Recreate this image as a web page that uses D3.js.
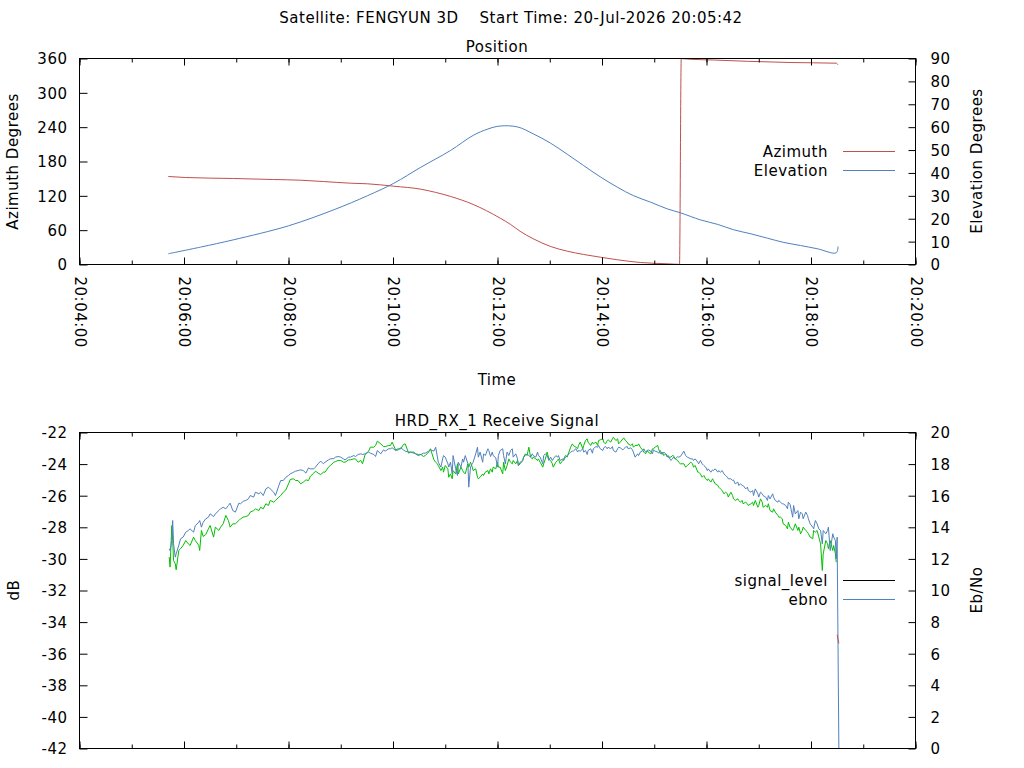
<!DOCTYPE html>
<html>
<head>
<meta charset="utf-8">
<script src="https://cdn.jsdelivr.net/npm/d3@7"></script>
<style>
  body { margin: 0; background: #fff; }
  svg { display: block; }
  text { font-family: "DejaVu Sans", sans-serif; font-size: 15px; letter-spacing: 0.5px; fill: #000; }
</style>
</head>
<body>
<svg id="chart" width="1024" height="768"></svg>
<script>
// pass of 20-Jul-2026, all times are seconds after 20:04:00
const satellite = 'FENGYUN 3D'
const startTime = '20-Jul-2026 20:05:42'
const receiver = 'HRD_RX_1'

const azSec = [102, 122, 177, 223, 254, 280, 311, 331, 361, 392, 409, 426, 452, 483, 495, 506, 521, 541, 560, 579,
  598, 618, 644, 676, 689, 691, 702, 728, 767, 816, 869, 871]
const azimuth = [153.8, 152.0, 150.3, 148.5, 147.3, 145.0, 142.1, 141.0, 136.8, 131.6, 126.0, 119.0, 105.0, 81.0, 70.0, 58.0, 45.0, 31.5, 23.3, 17.5,
  12.8, 8.2, 3.5, 1.2, 0.3, 359.8, 358.6, 357.4, 355.1, 353.0, 351.8, 349.0]

const elSec = [102, 139, 177, 240, 292, 331, 361, 392, 426, 452, 469, 483, 503, 521, 541, 560, 579, 598, 618,
  636, 656, 675, 690, 713, 733, 751, 771, 790, 808, 828, 847, 869, 871]
const elevation = [4.7, 7.6, 10.8, 16.9, 23.9, 30.1, 35.5, 42.5, 49.8, 56.4, 59.2, 60.5, 60.1, 57.1, 53.0, 48.2, 43.2, 38.3, 33.7,
  30.1, 27.2, 24.3, 22.6, 19.5, 17.5, 15.2, 13.4, 11.5, 9.7, 8.3, 6.9, 5.1, 7.9]

const sigSec = [
  103, 104, 106, 107, 108, 110, 111, 114, 116, 119, 122, 125, 127, 131, 133, 137, 138, 140, 142, 145,
  148, 150, 154, 156, 160, 162, 165, 168, 171, 173, 176, 179, 183, 185, 188, 191, 194, 196, 200, 202,
  206, 208, 211, 214, 217, 219, 223, 225, 229, 231, 234, 237, 240, 242, 246, 248, 251, 254, 257, 260,
  263, 265, 269, 271, 274, 277, 280, 282, 286, 288, 292, 294, 297, 300,
  303, 305, 309, 311, 315, 317, 320, 323, 325, 328, 332, 334, 338, 340, 342, 346, 349, 351, 355, 357,
  359, 363, 366, 369, 372, 374, 378, 380, 384, 386, 389, 392, 395, 397, 401, 403, 407, 409, 411, 412,
  415, 417, 418, 420, 423, 424, 426, 428, 429, 432, 434, 435, 438, 440, 441, 443, 446, 447, 449, 451,
  452, 455, 457, 458, 460, 463, 464, 466, 469, 470, 472, 474, 475, 478, 480, 481,
  483, 486, 487, 489, 491, 493, 495, 497, 498, 501, 503, 504, 506, 509, 510, 512, 514, 516, 518, 520,
  521, 524, 526, 527, 529, 532, 533, 535, 537, 539, 541, 543, 544, 547, 549, 550, 552, 555, 556, 558,
  560, 562, 564, 566, 567, 570, 572, 573, 575, 578, 579, 581, 583, 584, 587, 589, 590, 593, 595, 596,
  598, 601, 602, 604, 606, 607, 610, 612, 613, 616, 618, 619, 621, 624, 625, 627, 629, 630, 633, 635,
  636, 638, 641, 642, 644, 647, 648, 650, 652, 653, 656, 658, 659, 661, 664, 665, 667, 669, 671, 673,
  675, 676, 679, 681, 682, 684, 687, 688, 690,
  694, 696, 698, 702, 704, 705, 707, 710, 711, 713, 715, 717, 719, 721, 722, 725, 727, 728, 730, 733,
  734, 736, 738, 740, 742, 744, 745, 748, 750, 751, 753, 756, 757, 759, 761, 762, 765, 767, 768, 771,
  773, 774, 776, 779, 780, 782, 784, 785, 788, 790, 791, 793, 796, 797, 799, 802, 803, 805, 807, 808,
  811, 813, 814, 816, 819, 820, 822, 825, 826, 828, 830, 831, 834, 836, 837, 839, 842, 843, 845, 847,
  849, 851, 853, 854, 857, 859, 860, 862, 865, 866, 868, 869, 870, 872]

// dB, left axis
const signalLevel = [
  -29.89, -30.52, -27.89, -28.84, -30.10, -30.31, -30.69, -29.47, -29.36, -29.15, -28.84, -29.05, -29.15, -28.62, -28.84, -29.15, -29.47, -28.20, -28.58, -28.46,
  -28.10, -27.89, -28.62, -27.99, -28.20, -27.99, -27.78, -27.25, -27.57, -27.99, -27.78, -27.78, -27.57, -27.46, -27.36, -27.32, -27.25, -27.04, -26.94, -26.83,
  -26.94, -26.73, -26.83, -26.51, -26.62, -26.30, -26.41, -26.30, -26.09, -25.99, -25.78, -25.63, -25.25, -24.97, -24.93, -25.04, -25.04, -25.25, -25.14, -25.00,
  -25.04, -24.78, -24.57, -24.45, -24.57, -24.66, -24.51, -24.51, -24.19, -24.09, -23.88, -23.84, -23.77, -23.77,
  -23.88, -23.88, -23.73, -23.73, -23.67, -23.67, -23.88, -23.77, -23.98, -23.39, -23.18, -22.93, -22.93, -22.82, -22.55, -22.72, -22.89, -22.89, -22.82, -22.82,
  -22.61, -23.10, -23.03, -23.03, -22.76, -22.72, -23.31, -23.24, -23.24, -23.35, -23.46, -23.39, -23.52, -23.46, -23.24, -23.03, -23.73, -23.88, -23.98, -24.09,
  -24.41, -24.19, -24.51, -24.09, -24.30, -24.83, -24.62, -24.93, -24.41, -24.62, -23.98, -24.62, -24.19, -24.41, -24.51, -24.62, -23.98, -24.19, -23.88, -24.19,
  -24.41, -24.30, -24.83, -24.93, -24.83, -24.62, -24.72, -24.51, -24.41, -24.62, -24.30, -24.51, -24.19, -24.30, -23.88, -24.19,
  -24.19, -24.62, -23.88, -24.41, -24.09, -23.67, -23.88, -23.98, -23.77, -23.98, -23.77, -24.09, -23.98, -23.77, -23.56, -23.35, -23.46, -22.93, -23.56, -23.67,
  -23.56, -23.67, -23.77, -23.67, -23.88, -24.19, -23.98, -23.67, -23.24, -23.67, -23.77, -23.98, -24.19, -23.88, -23.77, -23.67, -23.98, -23.77, -23.67, -23.46,
  -23.56, -23.24, -22.93, -22.72, -22.82, -22.93, -23.03, -22.82, -22.61, -23.03, -22.82, -22.51, -22.40, -22.61, -22.82, -22.61, -22.72, -22.61, -22.82, -22.51,
  -22.46, -22.40, -22.61, -22.72, -22.51, -22.46, -22.61, -22.40, -22.30, -22.51, -22.40, -22.72, -22.61, -22.40, -22.34, -22.51, -22.61, -22.72, -22.82, -22.72,
  -22.93, -22.82, -22.82, -22.72, -22.93, -23.14, -23.24, -23.35, -23.14, -23.24, -23.35, -23.03, -23.03, -22.93, -22.82, -23.03, -23.35, -23.24, -23.46, -23.35,
  -23.46, -23.56, -23.56, -23.46, -23.46, -23.67, -23.77, -23.88, -23.98,
  -23.98, -24.19, -24.09, -23.88, -23.98, -24.19, -24.09, -24.51, -24.51, -24.62, -24.83, -24.72, -24.93, -25.04, -24.93, -25.14, -24.93, -25.04, -25.25, -25.35,
  -25.46, -25.57, -25.67, -25.88, -25.78, -25.88, -26.09, -25.78, -25.99, -26.20, -26.30, -26.20, -26.30, -26.41, -26.30, -26.51, -26.41, -26.51, -26.62, -26.51,
  -26.41, -26.62, -26.30, -26.73, -26.62, -26.20, -26.41, -26.73, -26.62, -26.73, -26.51, -26.94, -27.04, -26.83, -27.04, -27.25, -27.36, -27.36, -27.46, -27.78,
  -27.89, -28.10, -27.68, -27.99, -28.20, -28.10, -27.78, -28.20, -27.99, -28.41, -28.20, -27.99, -28.20, -28.31, -28.41, -28.62, -28.73, -28.20, -28.31, -28.20,
  -28.62, -29.05, -30.73, -29.68, -28.84, -29.05, -29.36, -28.84, -29.47, -29.15, -29.68, -30.21, -34.80, -35.35]

// Eb/No, right axis
const ebno = [
  12.64, 12.53, 13.16, 14.43, 12.95, 12.11, 12.32, 12.85, 13.27, 13.38, 13.69, 13.80, 13.90, 13.69, 14.11, 14.32, 14.43, 14.01, 14.32, 14.54,
  14.64, 14.85, 14.68, 14.85, 15.06, 15.17, 15.27, 15.17, 15.38, 15.53, 15.06, 14.96, 15.53, 15.49, 15.65, 15.70, 15.80, 16.01, 15.91, 16.22,
  16.12, 16.22, 16.01, 16.43, 16.54, 16.43, 16.22, 16.01, 16.65, 16.96, 16.96, 17.17, 17.28, 17.38, 17.49, 17.55, 17.59, 17.64, 17.59, 17.43,
  17.76, 17.70, 17.70, 17.81, 18.02, 18.19, 18.02, 18.12, 18.27, 18.33, 18.35, 18.44, 18.48, 18.44,
  18.33, 18.27, 18.44, 18.44, 18.54, 18.48, 18.61, 18.65, 18.61, 18.65, 18.76, 18.69, 18.61, 18.48, 18.86, 18.65, 18.90, 18.82, 18.97, 18.97,
  19.03, 18.86, 18.90, 19.03, 18.90, 18.82, 18.76, 18.76, 18.69, 18.65, 18.61, 18.61, 18.69, 18.69, 18.82, 18.90, 18.82, 19.07, 18.44, 18.12,
  17.81, 18.33, 18.54, 18.44, 18.02, 17.81, 18.12, 17.38, 18.54, 17.70, 17.28, 18.12, 17.81, 18.33, 18.12, 18.54, 18.02, 16.54, 17.81, 18.02,
  18.12, 18.65, 19.07, 18.44, 18.76, 18.12, 18.65, 18.54, 18.97, 18.86, 18.48, 18.76, 18.54, 18.40, 17.81, 18.54,
  18.86, 18.97, 18.54, 18.02, 18.76, 18.54, 18.86, 18.97, 18.44, 18.65, 18.33, 17.91, 18.12, 18.23, 18.44, 18.54, 18.65, 18.54, 18.44, 18.65,
  18.54, 18.44, 18.76, 18.54, 18.44, 18.02, 18.54, 18.65, 18.54, 18.23, 18.44, 18.23, 18.33, 18.54, 18.44, 18.54, 18.23, 18.33, 18.23, 18.44,
  18.54, 18.65, 18.76, 18.82, 18.82, 18.97, 18.76, 18.86, 18.82, 18.97, 18.76, 18.86, 18.61, 18.86, 18.97, 18.69, 18.97, 19.11, 19.07, 19.18,
  18.97, 18.86, 19.03, 19.11, 18.97, 19.07, 18.97, 19.11, 18.86, 18.76, 18.97, 19.07, 19.03, 18.90, 18.97, 19.07, 19.11, 18.97, 19.03, 18.90,
  18.76, 18.44, 18.65, 18.54, 18.76, 18.86, 18.97, 18.76, 18.86, 18.90, 18.82, 18.65, 18.90, 18.82, 18.76, 18.69, 18.86, 18.61, 18.76, 18.65,
  18.44, 18.54, 18.23, 18.33, 18.44, 18.33, 18.48, 18.44, 18.48,
  18.82, 18.54, 18.44, 18.33, 18.33, 18.23, 18.33, 18.12, 18.02, 18.23, 18.02, 17.91, 17.81, 17.59, 17.70, 17.49, 17.64, 17.59, 17.70, 17.49,
  17.59, 17.49, 17.59, 17.38, 17.28, 17.17, 17.07, 17.07, 16.96, 17.00, 16.75, 16.86, 16.65, 16.75, 16.65, 16.65, 16.43, 16.54, 16.33, 16.22,
  16.33, 16.01, 16.43, 16.12, 15.91, 16.22, 16.12, 16.01, 15.91, 15.70, 16.01, 15.80, 16.12, 15.91, 15.70, 15.59, 15.70, 15.59, 15.49, 15.49,
  15.38, 15.17, 15.59, 15.44, 14.64, 15.38, 14.85, 15.06, 14.54, 14.96, 14.85, 14.54, 14.96, 14.75, 14.54, 14.22, 14.01, 13.90, 14.43, 14.22,
  13.90, 13.80, 12.95, 13.80, 13.59, 13.80, 14.01, 12.53, 13.59, 13.38, 13.16, 12.00, 13.38, 0]

const azTicks = [0, 60, 120, 180, 240, 300, 360]
const elTicks = d3.range(0, 91, 10)
const dbTicks = d3.range(-42, -21, 2)
const ebTicks = d3.range(0, 21, 2)

const RED = '#c0504d'
const BLUE = '#4f81bd'
const GREEN = '#00c000'
const LOW_SIGNAL = -32   // signal_level drawn red below this

const T0 = new Date(2026, 6, 20, 20, 4, 0)
const at = s => new Date(T0.getTime() + s * 1000)

const svg = d3.select('#chart')
const left = 79.5
const right = 915.5

const x = d3.scaleTime()
    .domain([ at(0), at(960) ])
    .range([ left, right ])

const fmt = d3.timeFormat('%H:%M:%S')

const drawFrame = (top, bottom, yL, yR, ticksL, ticksR, timeLabels) => {

    svg.append('g')
        .attr('transform', `translate(${left},0)`)
        .call(d3.axisLeft(yL).tickValues(ticksL).tickSize(-8).tickPadding(12).tickFormat(d => String(d)))
        .call(g => g.select('.domain').remove())
        .selectAll('text').attr('dy', '0.36em')

    svg.append('g')
        .attr('transform', `translate(${right},0)`)
        .call(d3.axisRight(yR).tickValues(ticksR).tickSize(-7).tickPadding(15).tickFormat(d => String(d)))
        .call(g => g.select('.domain').remove())
        .selectAll('text').attr('dy', '0.36em')

    // minor ticks every minute, major every two, on both edges
    const minor = d3.timeMinute.every(1).range(at(0), at(961))
    const major = d3.timeMinute.every(2).range(at(0), at(961))

    svg.append('g')
        .attr('transform', `translate(0,${bottom})`)
        .call(d3.axisBottom(x).tickValues(minor).tickSize(-4).tickFormat(''))
        .call(g => g.select('.domain').remove())
    svg.append('g')
        .attr('transform', `translate(0,${top})`)
        .call(d3.axisTop(x).tickValues(minor).tickSize(-4).tickFormat(''))
        .call(g => g.select('.domain').remove())
    svg.append('g')
        .attr('transform', `translate(0,${top})`)
        .call(d3.axisTop(x).tickValues(major).tickSize(-7).tickFormat(''))
        .call(g => g.select('.domain').remove())

    const xb = svg.append('g')
        .attr('transform', `translate(0,${bottom})`)
        .call(d3.axisBottom(x).tickValues(major).tickSize(-7).tickFormat(timeLabels ? fmt : ''))
        .call(g => g.select('.domain').remove())

    xb.selectAll('text')
        .attr('transform', 'rotate(90)')
        .attr('x', 12)
        .attr('y', 0)
        .attr('dy', '0.36em')
        .style('text-anchor', 'start')

    svg.append('rect')
        .attr('x', left)
        .attr('y', top)
        .attr('width', right - left)
        .attr('height', bottom - top)
        .attr('fill', 'none')
        .attr('stroke', '#000')
}

const legend = (items, yStart) => {
    items.forEach((it, i) => {
        const y = yStart + i * 19
        svg.append('text')
            .attr('x', 828)
            .attr('y', y + 5)
            .style('text-anchor', 'end')
            .text(it.label)
        svg.append('line')
            .attr('x1', 843).attr('x2', 895)
            .attr('y1', y).attr('y2', y)
            .attr('stroke', it.color)
    })
}

const vLabel = (txt, px, py) => {
    svg.append('text')
        .attr('transform', `translate(${px},${py}) rotate(-90)`)
        .style('text-anchor', 'middle')
        .text(txt)
}

// ---------- titles
svg.append('text')
    .attr('x', 511).attr('y', 23)
    .style('text-anchor', 'middle')
    .style('white-space', 'pre')
    .text(`Satellite: ${satellite}    Start Time: ${startTime}`)

// ---------- position panel
const pTop = 58.5, pBottom = 264.5
const yAz = d3.scaleLinear().domain([ 0, 360 ]).range([ pBottom, pTop ])
const yEl = d3.scaleLinear().domain([ 0, 90 ]).range([ pBottom, pTop ])

svg.append('text').attr('x', 497).attr('y', 51.5).style('text-anchor', 'middle').text('Position')

const azData = azSec.map((s, i) => ({ t: at(s), v: azimuth[i] }))
const elData = elSec.map((s, i) => ({ t: at(s), v: elevation[i] }))

svg.append('path')
    .datum(azData)
    .attr('d', d3.line().curve(d3.curveMonotoneX).x(d => x(d.t)).y(d => yAz(d.v)))
    .attr('fill', 'none').attr('stroke', RED)

svg.append('path')
    .datum(elData)
    .attr('d', d3.line().curve(d3.curveCatmullRom.alpha(0.5)).x(d => x(d.t)).y(d => yEl(d.v)))
    .attr('fill', 'none').attr('stroke', BLUE)

drawFrame(pTop, pBottom, yAz, yEl, azTicks, elTicks, true)

svg.append('text').attr('x', 497).attr('y', 385).style('text-anchor', 'middle').text('Time')
vLabel('Azimuth Degrees', 18, 161.5)
vLabel('Elevation Degrees', 982, 161)

legend([ { label: 'Azimuth', color: RED }, { label: 'Elevation', color: BLUE } ], 151.5)

// ---------- receive signal panel
const sTop = 432.5, sBottom = 748.5
const yDb = d3.scaleLinear().domain([ -42, -22 ]).range([ sBottom, sTop ])
const yEb = d3.scaleLinear().domain([ 0, 20 ]).range([ sBottom, sTop ])

svg.append('text').attr('x', 497).attr('y', 426).style('text-anchor', 'middle').text(`${receiver} Receive Signal`)

const sig = sigSec.map((s, i) => ({ t: at(s), level: signalLevel[i], eb: ebno[i] }))
const firstLow = sig.findIndex(d => d.level < LOW_SIGNAL)

const levelLine = d3.line().x(d => x(d.t)).y(d => yDb(d.level))

svg.append('path')
    .datum(sig.slice(0, firstLow))
    .attr('d', levelLine)
    .attr('fill', 'none').attr('stroke', GREEN)

svg.append('path')
    .datum(sig)
    .attr('d', d3.line().x(d => x(d.t)).y(d => yEb(d.eb)))
    .attr('fill', 'none').attr('stroke', BLUE)

// low part of the signal, on top of the ebno drop
svg.append('path')
    .datum(sig.slice(firstLow))
    .attr('d', levelLine)
    .attr('fill', 'none').attr('stroke', RED)

drawFrame(sTop, sBottom, yDb, yEb, dbTicks, ebTicks, false)

vLabel('dB', 19, 590)
vLabel('Eb/No', 982, 590)

legend([ { label: 'signal_level', color: '#000' }, { label: 'ebno', color: BLUE } ], 580.5)
</script>
</body>
</html>
